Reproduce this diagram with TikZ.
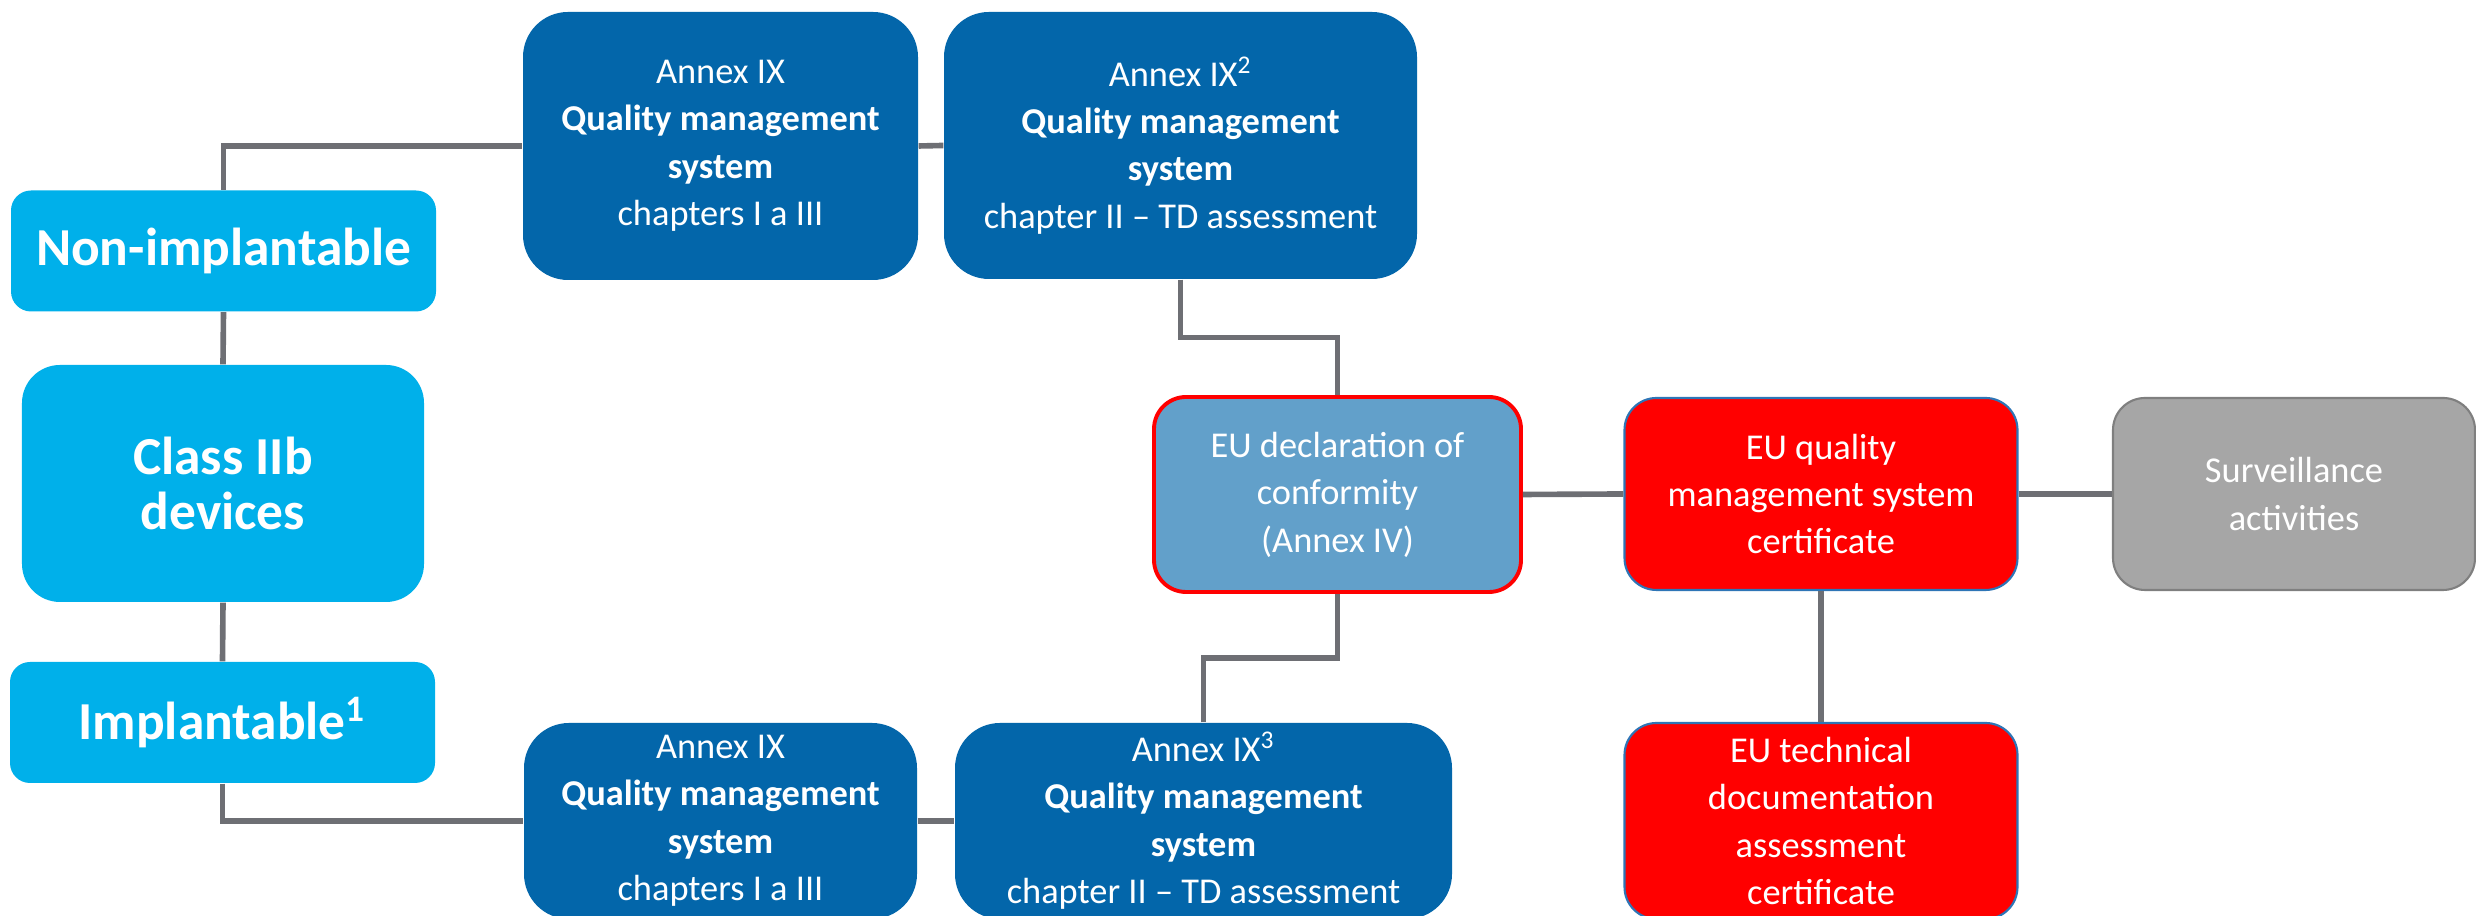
\documentclass[tikz,border=0pt]{standalone}
\usepackage{fontspec}
\setmainfont{Carlito}
\usepackage{tikz}
\usetikzlibrary{calc}
\definecolor{darkblue}{RGB}{3,102,170}
\definecolor{skyblue}{RGB}{0,176,234}
\definecolor{declblue}{RGB}{98,160,202}
\definecolor{certred}{RGB}{255,0,0}
\definecolor{certedge}{RGB}{46,117,182}
\definecolor{survgrey}{RGB}{166,166,166}
\definecolor{survedge}{RGB}{127,127,127}
\definecolor{linegrey}{RGB}{110,111,116}

\begin{document}
\begin{tikzpicture}[
    box/.style = {rectangle, align=center, text=white, inner sep=2pt,
                  font=\fontsize{10.35}{13.5}\selectfont},
    cls/.style = {box, fill=skyblue, font=\fontsize{15.2}{15.9}\selectfont\bfseries},
    annex/.style = {box, fill=darkblue, rounded corners=0.45cm},
    decl/.style = {box, fill=declblue, draw=certred, line width=1.1pt, rounded corners=0.32cm},
    cert/.style = {box, fill=certred, draw=certedge, line width=0.6pt, rounded corners=0.32cm},
    surv/.style = {box, fill=survgrey, draw=survedge, line width=0.6pt, rounded corners=0.32cm},
    conn/.style = {draw=linegrey, line width=1.6pt}]
      \useasboundingbox (0,0) rectangle (24.76,9.16);
      \clip (0,0) rectangle (24.76,9.16);

      \node[cls, rounded corners=0.2cm, minimum width=4.25cm, minimum height=1.21cm] (non) at (2.235,6.65) {Non-implantable};
      \node[cls, rounded corners=0.38cm, minimum width=4.02cm, minimum height=2.37cm] (class) at (2.23,4.325) {Class IIb\\devices};
      \node[cls, rounded corners=0.2cm, minimum width=4.25cm, minimum height=1.21cm] (imp) at (2.225,1.935) {Implantable\textsuperscript{1}};

      \node[annex, minimum width=3.95cm, minimum height=2.68cm] (ax1) at (7.205,7.70) {Annex IX\\\textbf{Quality management}\\\textbf{system}\\chapters I a III};
      \node[annex, minimum width=4.73cm, minimum height=2.67cm] (ax2) at (11.805,7.705) {Annex IX\textsuperscript{2}\\\textbf{Quality management}\\\textbf{system}\\chapter II – TD assessment};
      \node[annex, minimum width=3.93cm, minimum height=1.96cm] (bx1) at (7.205,0.95) {Annex IX\\\textbf{Quality management}\\\textbf{system}\\chapters I a III};
      \node[annex, minimum width=4.97cm, minimum height=1.96cm] (bx2) at (12.035,0.95) {Annex IX\textsuperscript{3}\\\textbf{Quality management}\\\textbf{system}\\chapter II – TD assessment};

      \node[decl, minimum width=3.67cm, minimum height=1.95cm] (decl) at (13.375,4.215) {EU declaration of\\conformity\\(Annex IV)};
      \node[cert, minimum width=3.93cm, minimum height=1.92cm] (cert) at (18.21,4.22) {EU quality\\management system\\certificate};
      \node[surv, minimum width=3.62cm, minimum height=1.92cm] (surv) at (22.94,4.22) {Surveillance\\activities};
      \node[cert, minimum width=3.93cm, minimum height=1.96cm] (tech) at (18.21,0.95) {EU technical\\documentation\\assessment\\certificate};

      \draw[conn] (non.north) |- (ax1.west);
      \draw[conn] (ax1.east) -- (ax2.west);
      \draw[conn] (non.south) -- (class.north);
      \draw[conn] (class.south) -- (imp.north);
      \draw[conn] (imp.south) |- (bx1.west);
      \draw[conn] (bx1.east) -- (bx2.west);
      \draw[conn] (ax2.south) |- ($(ax2.south)!0.5!(decl.north)$) -| (decl.north);
      \draw[conn] (bx2.north) |- ($(bx2.north)!0.5!(decl.south)$) -| (decl.south);
      \draw[conn] (decl.east) -- (cert.west);
      \draw[conn] (cert.east) -- (surv.west);
      \draw[conn] (cert.south) -- (tech.north);
\end{tikzpicture}
\end{document}
